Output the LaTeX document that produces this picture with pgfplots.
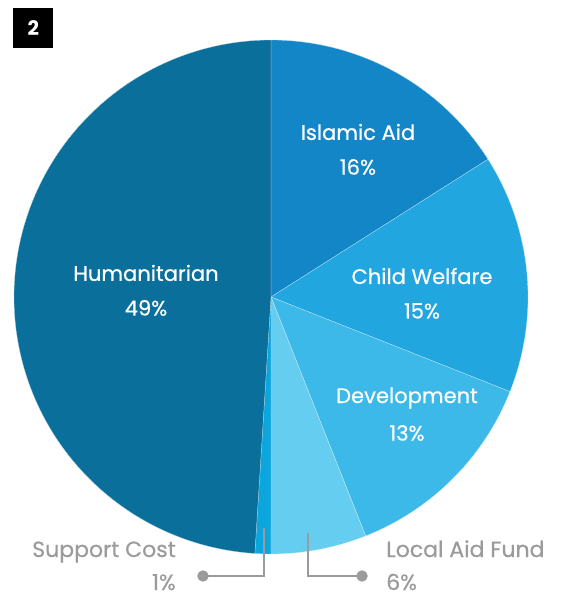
\documentclass[border=0pt]{standalone}
\usepackage{pgfplots}
\pgfplotsset{compat=1.18}
\usepackage{pgfplotstable}
\usepackage{fontspec}
\setmainfont{Poppins}
\newfontfamily\medfont{Poppins}[FakeBold=0.5]

\definecolor{cHum}{HTML}{0A6F9B}
\definecolor{cIsl}{HTML}{1386C8}
\definecolor{cChi}{HTML}{22A6DF}
\definecolor{cDev}{HTML}{3CB8E9}
\definecolor{cLoc}{HTML}{65CDEF}
\definecolor{cSup}{HTML}{0AA6DD}
\definecolor{cGray}{HTML}{9B9B9B}

\pgfplotstableread{
name value
Islamic 16
Child 15
Development 13
Local 6
Support 1
Humanitarian 49
}\piedata

\pgfplotstablegetelem{0}{value}\of\piedata \let\vA\pgfplotsretval
\pgfplotstablegetelem{1}{value}\of\piedata \let\vB\pgfplotsretval
\pgfplotstablegetelem{2}{value}\of\piedata \let\vC\pgfplotsretval
\pgfplotstablegetelem{3}{value}\of\piedata \let\vD\pgfplotsretval
\pgfplotstablegetelem{4}{value}\of\piedata \let\vE\pgfplotsretval
\pgfplotstablegetelem{5}{value}\of\piedata \let\vF\pgfplotsretval
\pgfmathsetmacro\aA{90}
\pgfmathsetmacro\aB{\aA-3.6*\vA}
\pgfmathsetmacro\aC{\aB-3.6*\vB}
\pgfmathsetmacro\aD{\aC-3.6*\vC}
\pgfmathsetmacro\aE{\aD-3.6*\vD}
\pgfmathsetmacro\aF{\aE-3.6*\vE}
\pgfmathsetmacro\aG{\aF-3.6*\vF}

\def\cx{271}
\def\cy{300}
\def\R{257}

\begin{document}
\begin{tikzpicture}
\begin{axis}[
  x=0.75pt, y=0.75pt,
  xmin=0, xmax=561, ymin=0, ymax=597,
  hide axis, clip=false,
]
\path (axis cs:0,0) rectangle (axis cs:561,597);
\addplot[fill=cIsl, draw=white!70!cIsl, line width=0.2pt, domain=\aB:\aA, samples=60, variable=\t] ({\cx+\R*cos(t)},{\cy+\R*sin(t)}) -- (axis cs:\cx,\cy) -- cycle;
\addplot[fill=cChi, draw=white!70!cChi, line width=0.2pt, domain=\aC:\aB, samples=60, variable=\t] ({\cx+\R*cos(t)},{\cy+\R*sin(t)}) -- (axis cs:\cx,\cy) -- cycle;
\addplot[fill=cDev, draw=white!70!cDev, line width=0.2pt, domain=\aD:\aC, samples=60, variable=\t] ({\cx+\R*cos(t)},{\cy+\R*sin(t)}) -- (axis cs:\cx,\cy) -- cycle;
\addplot[fill=cLoc, draw=white!70!cLoc, line width=0.2pt, domain=\aE:\aD, samples=30, variable=\t] ({\cx+\R*cos(t)},{\cy+\R*sin(t)}) -- (axis cs:\cx,\cy) -- cycle;
\addplot[fill=cSup, draw=white!70!cSup, line width=0.2pt, domain=\aF:\aE, samples=10, variable=\t] ({\cx+\R*cos(t)},{\cy+\R*sin(t)}) -- (axis cs:\cx,\cy) -- cycle;
\addplot[fill=cHum, draw=white!70!cHum, line width=0.2pt, domain=\aG:\aF, samples=150, variable=\t] ({\cx+\R*cos(t)},{\cy+\R*sin(t)}) -- (axis cs:\cx,\cy) -- cycle;

% leader lines
\addplot[cGray, line width=1.3pt, mark=*, mark indices={3}, mark size=3.6pt, mark options={fill=cGray, draw=cGray}] coordinates {(264,69) (264,21) (203,21)};
\addplot[cGray, line width=1.3pt, mark=*, mark indices={3}, mark size=3.6pt, mark options={fill=cGray, draw=cGray}] coordinates {(308,64) (308,21) (362,21)};

% labels
\tikzset{lab/.style={text=white, font=\medfont\fontsize{15.8}{18}\selectfont, inner sep=0pt}}
\node[lab] at (axis cs:358,465) {Islamic Aid};
\node[lab] at (axis cs:358,430) {16\%};
\node[lab] at (axis cs:422,321) {Child Welfare};
\node[lab] at (axis cs:422,286) {15\%};
\node[lab] at (axis cs:407,199) {Development};
\node[lab] at (axis cs:407,164) {13\%};
\node[lab] at (axis cs:146,324) {Humanitarian};
\node[lab] at (axis cs:146,289) {49\%};

\tikzset{glab/.style={text=cGray, font=\medfont\fontsize{16.5}{18}\selectfont, inner sep=0pt}}
\node[glab, anchor=base east] at (axis cs:176,40) {Support Cost};
\node[glab, anchor=base east] at (axis cs:176,7) {1\%};
\node[glab, anchor=base west] at (axis cs:386,40) {Local Aid Fund};
\node[glab, anchor=base west] at (axis cs:386,7) {6\%};

\node[fill=black, text=white, minimum size=30pt, inner sep=0pt, anchor=north west, font=\fontsize{15}{18}\selectfont\bfseries] at (axis cs:13,589) {2};
\end{axis}
\end{tikzpicture}
\end{document}
